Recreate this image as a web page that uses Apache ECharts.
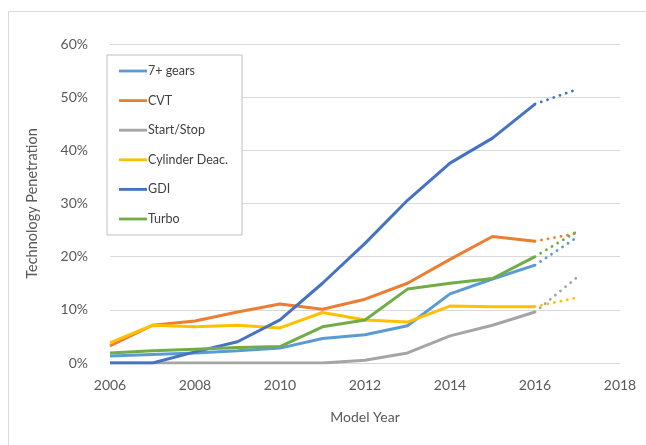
<!DOCTYPE html>
<html>
<head>
<meta charset="utf-8">
<script src="https://cdn.jsdelivr.net/npm/echarts@6/dist/echarts.min.js"></script>
<style>html,body{margin:0;padding:0;background:#fff;}#c{width:646px;height:445px;}</style>
</head>
<body>
<div id="c"></div>
<script>
// Data (percent)
const years = [2006, 2007, 2008, 2009, 2010, 2011, 2012, 2013, 2014, 2015, 2016];
const seriesNames = ["7+ gears", "CVT", "Start/Stop", "Cylinder Deac.", "GDI", "Turbo"];
const gears7    = [1.3, 1.6, 1.9, 2.3, 2.8, 4.6, 5.3, 7.0, 13.0, 15.8, 18.4];
const cvt       = [3.2, 7.1, 7.9, 9.6, 11.1, 10.1, 12.0, 15.0, 19.5, 23.8, 22.9];
const startStop = [0, 0, 0, 0, 0, 0, 0.5, 1.9, 5.1, 7.1, 9.6];
const cylDeac   = [3.8, 7.1, 6.8, 7.1, 6.6, 9.5, 8.1, 7.7, 10.7, 10.6, 10.6];
const gdi       = [0, 0, 2.1, 4.0, 8.1, 15.0, 22.5, 30.6, 37.6, 42.3, 48.7];
const turbo     = [1.9, 2.3, 2.6, 2.9, 3.1, 6.8, 8.1, 13.9, 15.0, 15.9, 20.0];
// Projection (dotted) to 2017
const projYear = 2017;
const projValues = [23.7, 24.4, 16.2, 12.3, 51.5, 24.8];
const xTicks = [2006, 2008, 2010, 2012, 2014, 2016, 2018];
const yTicks = [0, 10, 20, 30, 40, 50, 60];

const colors = ["#5B9BD5", "#ED7D31", "#A5A5A5", "#FFC000", "#4472C4", "#70AD47"];
const allValues = [gears7, cvt, startStop, cylDeac, gdi, turbo];
const FONT = "Lato, 'Open Sans', sans-serif";
const LINE_ICON = "path://M0,0 M28,14 M0,5.6 L28,5.6 L28,8.4 L0,8.4 Z";

const series = [];
allValues.forEach((vals, i) => {
  series.push({
    name: seriesNames[i], type: "line", symbol: "none",
    data: years.map((y, k) => [y, vals[k]]),
    lineStyle: { width: 3, color: colors[i] }, itemStyle: { color: colors[i] },
    z: 3
  });
});
allValues.forEach((vals, i) => {
  series.push({
    name: seriesNames[i] + " proj", type: "line", symbol: "none",
    data: [[years[years.length - 1], vals[vals.length - 1]], [projYear, projValues[i]]],
    lineStyle: { width: 2.8, color: colors[i], type: [0.1, 6.5], cap: "round" },
    itemStyle: { color: colors[i] },
    z: 2
  });
});

const chart = echarts.init(document.getElementById("c"));
chart.setOption({
  animation: false,
  backgroundColor: "#fff",
  graphic: [{
    type: "rect", left: 6, top: 9, shape: { width: 650, height: 434 },
    style: { fill: "none", stroke: "#d9d9d9", lineWidth: 1 }, silent: true, z: -1
  }],
  grid: { left: 110, right: 26, top: 44, bottom: 82 },
  legend: {
    data: seriesNames.map(n => ({ name: n, icon: LINE_ICON })),
    orient: "vertical", left: 107, top: 55,
    padding: [9, 14, 9, 12], itemGap: 15.6, itemWidth: 28, itemHeight: 14,
    borderColor: "#bfbfbf", borderWidth: 1, backgroundColor: "#fff",
    textStyle: { fontFamily: FONT, fontSize: 12.5, color: "#404040", padding: [0, 0, 0, -4] }
  },
  xAxis: {
    type: "value", min: 2006, max: 2018, interval: 2,
    name: "Model Year", nameLocation: "middle", nameGap: 47,
    nameTextStyle: { fontFamily: FONT, fontSize: 14, color: "#595959" },
    axisLine: { show: false }, axisTick: { show: false }, splitLine: { show: false },
    axisLabel: { margin: 15, fontFamily: FONT, fontSize: 14, color: "#595959",
      formatter: v => xTicks.includes(v) ? String(v) : "" }
  },
  yAxis: {
    type: "value", min: 0, max: 60, interval: 10,
    name: "Technology Penetration", nameLocation: "middle", nameGap: 70,
    nameTextStyle: { fontFamily: FONT, fontSize: 14.5, color: "#595959" },
    axisLine: { show: false }, axisTick: { show: false },
    splitLine: { lineStyle: { color: "#d9d9d9", width: 1 } },
    axisLabel: { margin: 22, fontFamily: FONT, fontSize: 14, color: "#595959",
      formatter: v => yTicks.includes(v) ? v + "%" : "" }
  },
  series: series
});
</script>
</body>
</html>
